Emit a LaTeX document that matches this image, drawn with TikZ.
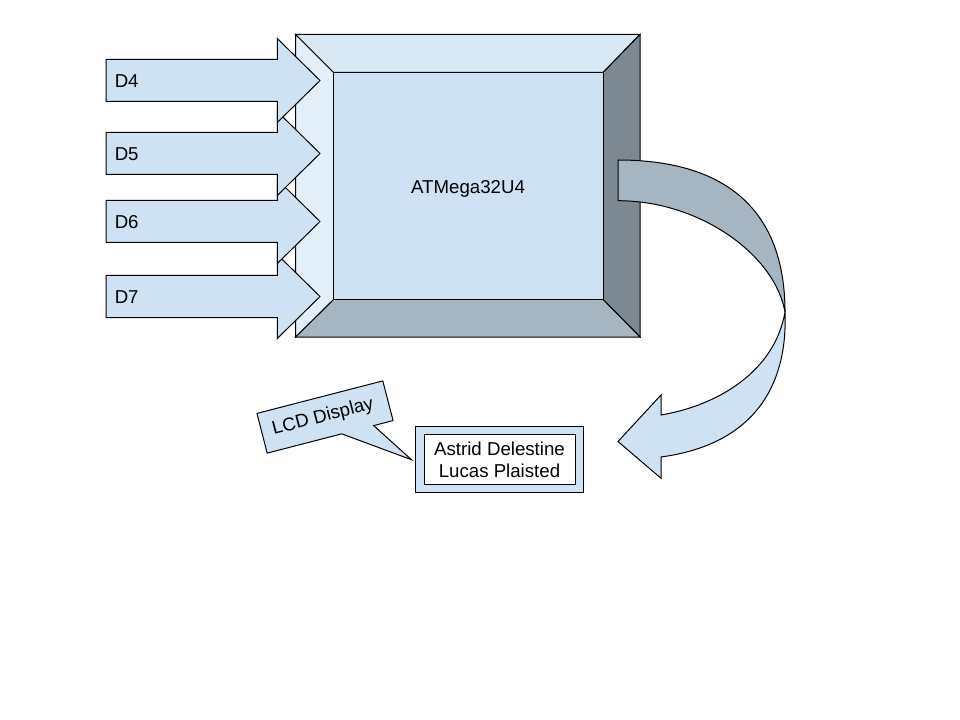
\documentclass[tikz,border=0pt]{standalone}
\usepackage{fontspec}
\setmainfont{Liberation Sans}
\definecolor{mainc}{RGB}{207,226,243}
\definecolor{litec}{RGB}{226,238,248}
\definecolor{liteless}{RGB}{217,232,245}
\definecolor{darkless}{RGB}{166,181,194}
\definecolor{darkc}{RGB}{124,136,146}
\begin{document}
\begin{tikzpicture}[x=0.75pt,y=-0.75pt,
  edge/.style={draw=black,line width=0.75pt,line join=miter},
  lbl/.style={font=\fontsize{14}{16.5}\selectfont, inner sep=0pt, text height=10pt, text depth=0pt}]
\useasboundingbox (0,0) rectangle (960,720);
\fill[white] (0,0) rectangle (960,720);

% bevel box
\coordinate (otl) at (295.5,34.5);
\coordinate (otr) at (640,34.5);
\coordinate (obr) at (640,337);
\coordinate (obl) at (295.5,337);
\coordinate (itl) at (333.5,72.5);
\coordinate (itr) at (603,72.5);
\coordinate (ibr) at (603,299.5);
\coordinate (ibl) at (333.5,299.5);
\path[edge,fill=liteless] (otl) -- (otr) -- (itr) -- (itl) -- cycle;
\path[edge,fill=darkc] (otr) -- (obr) -- (ibr) -- (itr) -- cycle;
\path[edge,fill=darkless] (obr) -- (obl) -- (ibl) -- (ibr) -- cycle;
\path[edge,fill=litec] (obl) -- (otl) -- (itl) -- (ibl) -- cycle;
\path[edge,fill=mainc] (itl) rectangle (ibr);
\node[lbl] (chip) at (468,187) {ATMega32U4};

% curved arrow: back face
\path[edge,fill=darkless] (618,200.7) -- (618,160)
  .. controls (728,160) and (785,212) .. (785,312)
  .. controls (775,255) and (700,200.7) .. (618,200.7) -- cycle;
% curved arrow: front face with head
\path[edge,fill=mainc] (785,312)
  .. controls (775,370) and (720,405) .. (661,415)
  -- (661,395) -- (618,441.5) -- (661,478.3) -- (661,457)
  .. controls (750,445) and (788,390) .. (785,312) -- cycle;

% input arrows
\foreach \yc/\t in {296.5/D7,221.5/D6,153.5/D5,80.5/D4}{
  \path[edge,fill=mainc] (106,{\yc-21}) -- (277.3,{\yc-21}) -- (277.3,{\yc-42})
    -- (320,\yc) -- (277.3,{\yc+42}) -- (277.3,{\yc+21}) -- (106,{\yc+21}) -- cycle;
  \node[lbl,anchor=west] (lab\t) at (114.5,\yc) {\t};
}

% callout
\begin{scope}[shift={(325,417)},rotate=14.5]
  \path[edge,fill=mainc] (-65,-20.5) -- (65,-20.5) -- (65,20.5) -- (45,20.5)
    -- (73,63) -- (12,20.5) -- (-65,20.5) -- cycle;
\end{scope}
\node[lbl,rotate=14.5] (lcd) at (322.5,415.5) {LCD Display};

% name frame
\path[edge,fill=mainc] (415.5,426.5) rectangle (583.3,492.3);
\path[edge,fill=white] (424,434) rectangle (575,484.3);
\node[lbl] (name1) at (499.5,449) {Astrid Delestine};
\node[lbl] (name2) at (499.5,471) {Lucas Plaisted};
\end{tikzpicture}
\end{document}
